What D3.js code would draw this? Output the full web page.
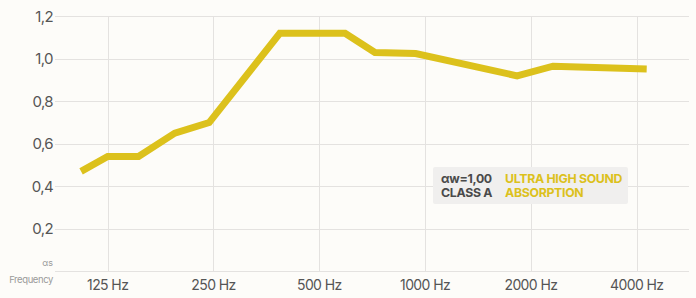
<!DOCTYPE html>
<html>
<head>
<meta charset="utf-8">
<script src="https://cdn.jsdelivr.net/npm/d3@7"></script>
<style>
  html, body { margin: 0; padding: 0; background: #fdfcf9; }
  svg { display: block; font-family: Inter, "Noto Sans", sans-serif; }
</style>
</head>
<body>
<svg width="696" height="298"></svg>
<script>
// absorption curve
var freqs = [105, 125, 153, 194, 243, 386, 592, 720, 940, 1827, 2311, 4271];
var alphas = [0.47, 0.54, 0.54, 0.65, 0.70, 1.12, 1.12, 1.03, 1.025, 0.92, 0.965, 0.952];
var xTicks = [125, 250, 500, 1000, 2000, 4000];
var yTicks = [0.2, 0.4, 0.6, 0.8, 1.0, 1.2];
var ratingLines = ["\u03b1w=1,00", "CLASS A"];
var classLines = ["ULTRA HIGH SOUND", "ABSORPTION"];

var yellow = "#dcc11c";

var svg = d3.select("svg");

var x = d3.scaleLog().domain([125, 4000]).range([107.7, 636.7]);
var y = d3.scaleLinear().domain([0, 1.2]).range([271.3, 16.3]);

var g = svg.append("g");

// horizontal grid
g.selectAll(".hgrid")
  .data([0].concat(yTicks))
  .enter().append("line")
    .attr("x1", 55).attr("x2", 689)
    .attr("y1", function(d) { return Math.round(y(d)) + 0.5; })
    .attr("y2", function(d) { return Math.round(y(d)) + 0.5; })
    .attr("stroke", "#e4e2e0").attr("stroke-width", 1);

// vertical grid
g.selectAll(".vgrid")
  .data(xTicks)
  .enter().append("line")
    .attr("x1", function(d) { return Math.round(x(d)) + 0.5; })
    .attr("x2", function(d) { return Math.round(x(d)) + 0.5; })
    .attr("y1", y(1.2)).attr("y2", y(0))
    .attr("stroke", "#e4e2e0").attr("stroke-width", 1);

// y labels
g.selectAll(".ylab")
  .data(yTicks)
  .enter().append("text")
    .attr("x", 53).attr("y", function(d) { return y(d); })
    .attr("dy", "0.36em")
    .attr("text-anchor", "end")
    .attr("font-size", 15)
    .attr("letter-spacing", "-0.6")
    .attr("fill", "#555")
    .text(function(d) { return d.toFixed(1).replace(".", ","); });

// x labels
g.selectAll(".xlab")
  .data(xTicks)
  .enter().append("text")
    .attr("x", function(d) { return x(d); }).attr("y", 285)
    .attr("dy", "0.36em")
    .attr("text-anchor", "middle")
    .attr("font-size", 14)
    .attr("letter-spacing", "-0.6")
    .attr("fill", "#555")
    .text(function(d) { return d + " Hz"; });

g.append("text")
  .attr("x", 53).attr("y", 263).attr("dy", "0.36em")
  .attr("text-anchor", "end").attr("font-size", 9)
  .attr("fill", "#9a9a9a")
  .text("\u03b1s");

g.append("text")
  .attr("x", 53).attr("y", 280).attr("dy", "0.36em")
  .attr("text-anchor", "end").attr("font-size", 9.5)
  .attr("letter-spacing", "-0.4")
  .attr("fill", "#9a9a9a")
  .text("Frequency");

// the curve
var line = d3.line()
  .x(function(d, i) { return x(freqs[i]); })
  .y(function(d) { return y(d); });

g.append("path")
  .datum(alphas)
  .attr("d", line)
  .attr("fill", "none")
  .attr("stroke", yellow)
  .attr("stroke-width", 7)
  .attr("stroke-linejoin", "miter")
  .attr("stroke-linecap", "butt");

// rating box
var box = g.append("g").attr("transform", "translate(433,167)");
box.append("rect")
  .attr("width", 195).attr("height", 37).attr("rx", 2)
  .attr("fill", "#f0efee");

box.selectAll(".rate")
  .data(ratingLines)
  .enter().append("text")
    .attr("x", 8).attr("y", function(d, i) { return 16 + i * 13.5; })
    .attr("font-size", 12.3).attr("font-weight", "bold")
    .attr("letter-spacing", "-0.3")
    .attr("fill", "#4a4a4a")
    .text(function(d) { return d; });

box.selectAll(".cls")
  .data(classLines)
  .enter().append("text")
    .attr("x", 72).attr("y", function(d, i) { return 16 + i * 13.5; })
    .attr("font-size", 12.3).attr("font-weight", "bold")
    .attr("letter-spacing", "-0.3")
    .attr("fill", yellow)
    .text(function(d) { return d; });
</script>
</body>
</html>
